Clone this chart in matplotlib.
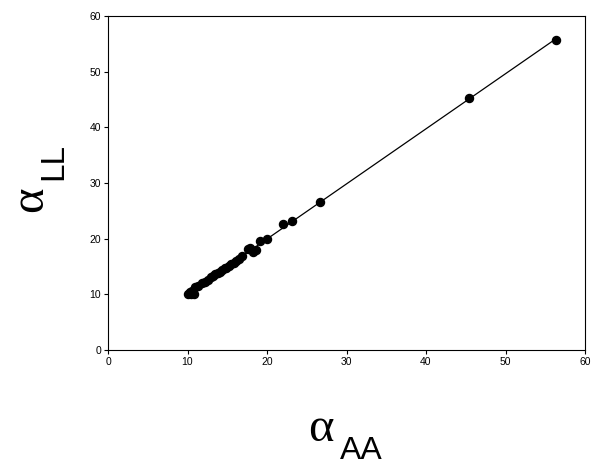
import numpy as np
import matplotlib
matplotlib.use("Agg")
import matplotlib.pyplot as plt

plt.rcParams['font.family'] = ['Liberation Sans', 'DejaVu Sans']

# alpha_AA vs alpha_LL values
alpha_aa = [10.1, 10.3, 10.5, 10.8, 10.6, 10.9, 11.3, 11.8, 12.2, 12.6, 12.9, 13.2,
            13.5, 13.8, 14.1, 14.4, 14.7, 14.9, 15.2, 15.5, 15.8, 16.1, 16.5, 16.8,
            17.6, 17.9, 18.3, 18.6, 19.1, 20.0, 22.05, 23.1, 26.7, 45.4, 56.4]
alpha_ll = [10.1, 10.4, 10.0, 10.0, 10.6, 11.3, 11.5, 12.0, 12.3, 12.6, 13.2, 13.3,
            13.6, 13.9, 14.1, 14.3, 14.7, 14.8, 15.1, 15.4, 15.7, 16.0, 16.3, 16.8,
            18.1, 18.3, 17.6, 18.0, 19.5, 19.9, 22.6, 23.2, 26.5, 45.2, 55.7]
ticks = [0, 10, 20, 30, 40, 50, 60]

W, H = 592, 466
fig = plt.figure(figsize=(W / 100, H / 100), dpi=100)
ax = fig.add_axes([108 / W, 1 - 350 / H, 477 / W, 334 / H])

x = np.array(alpha_aa)
y = np.array(alpha_ll)
slope, icpt = np.polyfit(x, y, 1)
xl = np.array([x.min(), x.max()])
ax.plot(xl, slope * xl + icpt, color='black', lw=0.9, zorder=2)
ax.plot(x, y, 'o', color='black', ms=5.8, zorder=3)

ax.set_xlim(0, 60)
ax.set_ylim(0, 60)
ax.set_xticks(ticks)
ax.set_yticks(ticks)
ax.tick_params(direction='out', length=3, width=0.8, labelsize=7.5, pad=2,
               top=False, right=False)
for s in ax.spines.values():
    s.set_linewidth(0.8)

# axis labels built from pieces: big alpha + sans subscript
def px(xp, yp):
    return xp / W, 1 - yp / H

fig.text(*px(308, 441), 'α', family='Liberation Serif', fontsize=35,
         ha='left', va='baseline')
fig.text(*px(340, 459), 'AA', fontsize=23, ha='left', va='baseline')
fig.text(*px(42, 212), 'α', family='Liberation Serif', fontsize=35,
         rotation=90, rotation_mode='anchor', ha='left', va='baseline')
fig.text(*px(62, 180), 'LL', fontsize=24,
         rotation=90, rotation_mode='anchor', ha='left', va='baseline')

fig.savefig('out.png', dpi=100)
